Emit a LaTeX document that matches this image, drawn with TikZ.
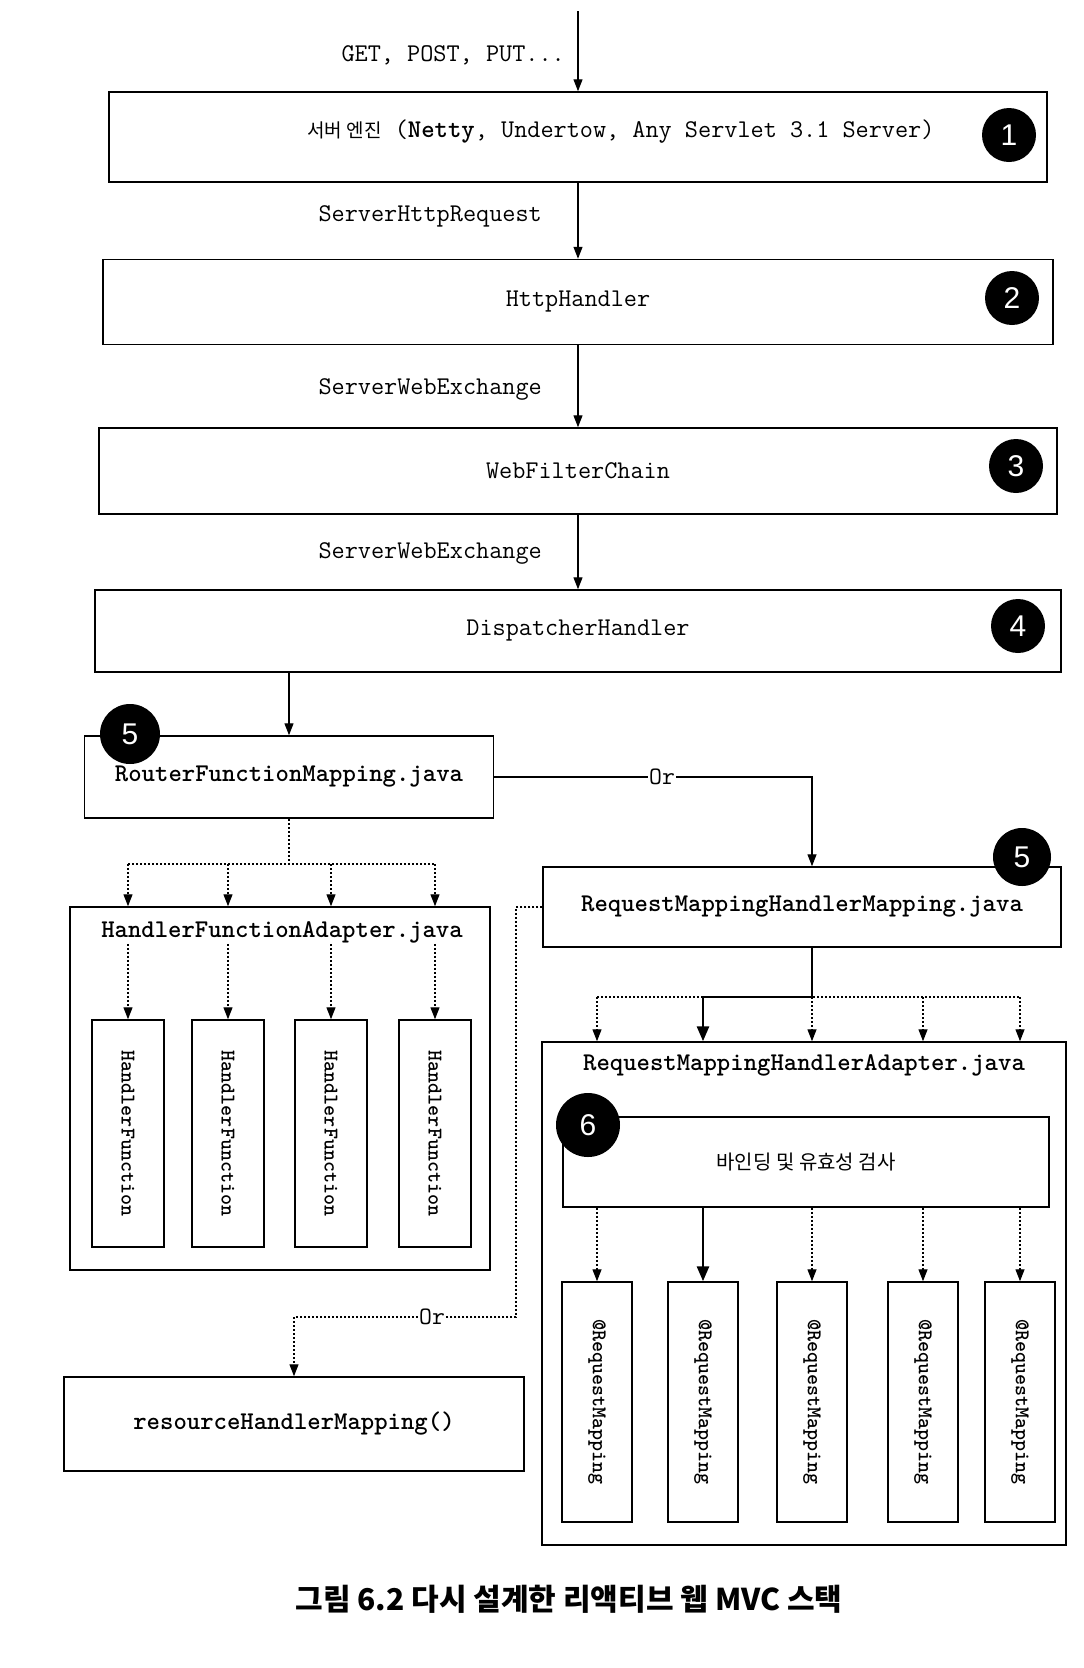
\documentclass[tikz,border=0pt]{standalone}
\usepackage{fontspec}
\usetikzlibrary{arrows.meta,calc}
\newfontfamily\kr{Noto Sans CJK KR}
\newfontfamily\badgefont{Liberation Sans}
\newcommand\mono{\ttfamily}
\begin{document}
\begin{tikzpicture}[x=1pt,y=-1pt,
  box/.style={draw, line width=1.5pt, inner sep=0pt},
  badge/.style={circle, fill=black, text=white, minimum size=54pt, inner sep=0pt, font=\badgefont\fontsize{30}{30}\selectfont},
  lbl/.style={font=\mono\fontsize{25.5}{28}\selectfont, inner sep=1pt},
  blbl/.style={font=\mono\bfseries\fontsize{25.5}{28}\selectfont, inner sep=1pt},
  vlbl/.style={font=\mono\bfseries\fontsize{21}{22}\selectfont, rotate=-90, inner sep=0pt},
  krlbl/.style={font=\kr\fontsize{20}{24}\selectfont, inner sep=1pt},
  orlbl/.style={font=\mono\fontsize{25}{28}\selectfont, inner sep=1pt},
  arr/.style={line width=1.3pt, -{Triangle[length=12pt,width=9pt]}},
  dotline/.style={line width=1.3pt, dash pattern=on 2pt off 2pt},
  dotarr/.style={dotline, -{Triangle[length=12pt,width=9pt]}},
  thickline/.style={line width=2.8pt},
  thickarr/.style={thickline, -{Triangle[length=15pt,width=12pt]}}
]
\useasboundingbox[fill=white] (0,0) rectangle (1084,1668);

% ---------- top stack ----------
\coordinate (top) at (578,11);
\node[lbl, anchor=east] (getlbl) at (566,55) {GET, POST, PUT...};
\node[box, minimum width=938pt, minimum height=90pt] (b1) at (578,137) {};
\node[lbl] (b1t) at (621,132) {{\kr\fontsize{19}{22}\selectfont 서버 엔진} ({\bfseries Netty}, Undertow, Any Servlet 3.1 Server)};
\node[badge] (n1) at (1009,135) {1};
\draw[arr] (top) -- (b1);

\node[lbl, anchor=east] (l1) at (543,216) {ServerHttpRequest};
\node[box, lbl, minimum width=950pt, minimum height=85pt] (b2) at (578,302) {HttpHandler};
\node[badge] (n2) at (1012,298) {2};
\draw[arr] (b1) -- (b2);

\node[lbl, anchor=east] (l2) at (543,389) {ServerWebExchange};
\node[box, lbl, minimum width=958pt, minimum height=86pt] (b3) at (578,471) {WebFilterChain};
\node[badge] (n3) at (1016,466) {3};
\draw[arr] (b2) -- (b3);

\node[lbl, anchor=east] (l3) at (543,553) {ServerWebExchange};
\node[box, lbl, minimum width=966pt, minimum height=82pt] (b4) at (578,631) {DispatcherHandler};
\node[badge] (n4) at (1018,626) {4};
\draw[arr] (b3) -- (b4);

% ---------- router function side ----------
\node[box, blbl, minimum width=409pt, minimum height=82pt] (rfm) at (289,777) {RouterFunctionMapping.java};
\node[badge, minimum size=60pt] (n5a) at (130,734) {5};
\draw[arr] (b4.south -| rfm.north) -- (rfm.north);

\node[box, minimum width=420pt, minimum height=363pt] (hfa) at (280,1088.5) {};
\node[blbl] (hfat) at (282,932) {HandlerFunctionAdapter.java};
\node[box, minimum width=72pt, minimum height=227pt] (hf1) at (128,1133.5) {};
\node[box, minimum width=72pt, minimum height=227pt] (hf2) at (228,1133.5) {};
\node[box, minimum width=72pt, minimum height=227pt] (hf3) at (331,1133.5) {};
\node[box, minimum width=72pt, minimum height=227pt] (hf4) at (435,1133.5) {};
\node[vlbl] (hf1t) at (hf1) {HandlerFunction};
\node[vlbl] (hf2t) at (hf2) {HandlerFunction};
\node[vlbl] (hf3t) at (hf3) {HandlerFunction};
\node[vlbl] (hf4t) at (hf4) {HandlerFunction};

\coordinate (rj) at (289,864);
\draw[dotline] (rfm.south) -- (rj);
\draw[dotline] (hf1.north |- rj) -- (hf4.north |- rj);
\foreach \i in {1,2,3,4}{
  \draw[dotarr] (hf\i.north |- rj) -- (hf\i.north |- hfa.north);
  \draw[dotarr] (hf\i.north |- hfat.south) -- (hf\i.north);
}

% ---------- request mapping side ----------
\node[box, blbl, minimum width=518pt, minimum height=80pt] (rmhm) at (802,907) {RequestMappingHandlerMapping.java};
\node[orlbl] (or1) at (662,777) {Or};
\draw[line width=1.3pt] (rfm.east) -- (or1.west);
\draw[arr] (or1.east) -| ([xshift=10pt]rmhm.north);
\node[badge, minimum size=58pt] (n5b) at (1022,857) {5};

\node[box, minimum width=524pt, minimum height=503pt] (rmha) at (804,1293.5) {};
\node[blbl] (rmhat) at (804,1065) {RequestMappingHandlerAdapter.java};
\node[box, krlbl, minimum width=486pt, minimum height=90pt] (bind) at (806,1162) {바인딩 및 유효성 검사};
\node[badge, minimum size=64pt] (n6) at (588,1125) {6};

\foreach \i/\x in {1/597,2/703,3/812,4/923,5/1020}{
  \node[box, minimum width=70pt, minimum height=240pt] (rm\i) at (\x,1402) {};
  \node[vlbl] (rm\i t) at (rm\i) {@RequestMapping};
}

\coordinate (mj) at (812,997);
\draw[dotline] (rm1.north |- mj) -- (rm5.north |- mj);
\foreach \i in {1,3,4,5}{
  \draw[dotarr] (rm\i.north |- mj) -- (rm\i.north |- rmha.north);
  \draw[dotarr] (rm\i.north |- bind.south) -- (rm\i.north);
}
\draw[thickline] (mj |- rmhm.south) -- (mj) -- (rm2.north |- mj);
\draw[thickarr] (rm2.north |- mj) -- (rm2.north |- rmha.north);
\draw[thickarr] (rm2.north |- bind.south) -- (rm2.north);

% ---------- resource handler ----------
\node[box, blbl, minimum width=460pt, minimum height=94pt] (rhm) at (294,1424) {resourceHandlerMapping()};
\node[orlbl] (or2) at (432,1317) {Or};
\coordinate (d1) at (516,907);
\draw[dotline] (rmhm.west) -- (d1) |- (or2.east);
\draw[dotarr] (or2.west) -| (rhm.north);

% ---------- caption ----------
\node[font=\kr\bfseries\fontsize{30}{34}\selectfont] (cap) at (569,1599) {그림 6.2 다시 설계한 리액티브 웹 MVC 스택};
\end{tikzpicture}
\end{document}
